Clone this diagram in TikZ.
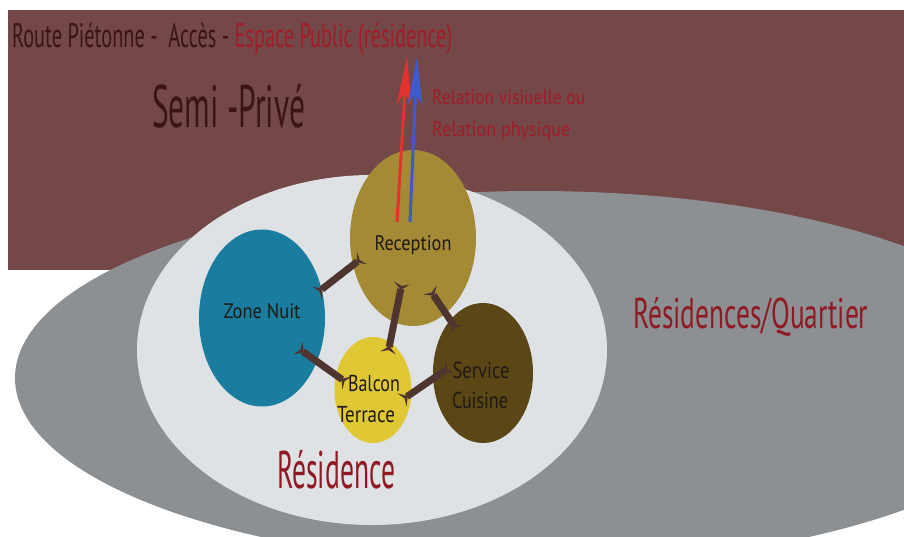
\documentclass[tikz,border=0pt]{standalone}
\usepackage{fontspec}
\setmainfont{PT Sans}
\usepackage{graphicx}
\usetikzlibrary{shapes.geometric,arrows.meta}
\definecolor{maroonbg}{HTML}{744748}
\definecolor{graybg}{HTML}{8C9093}
\definecolor{lightbg}{HTML}{DEE2E4}
\definecolor{recc}{HTML}{A48A35}
\definecolor{zonec}{HTML}{1A7C9E}
\definecolor{balc}{HTML}{E0C834}
\definecolor{servc}{HTML}{5B4616}
\definecolor{linkc}{HTML}{4F3530}
\definecolor{darktext}{HTML}{3B1515}
\definecolor{redtext}{HTML}{A01D27}
\definecolor{labeltext}{HTML}{1E1A12}
\definecolor{redarrow}{HTML}{E2322E}
\definecolor{bluearrow}{HTML}{3F5BCB}
\newcommand{\fw}[2]{\resizebox{#1}{\height}{#2}}
\begin{document}
\begin{tikzpicture}[x=1pt,y=-1pt,
  zone/.style={ellipse, inner sep=0pt, draw=none},
  txt/.style={inner sep=0pt, anchor=base west},
  lbl/.style={inner sep=0pt, anchor=base, text=labeltext, font=\fontsize{21}{21}\selectfont},
  link/.style={draw=linkc, line width=7pt,
    {Stealth[reversed,length=7pt,width=16pt,inset=3pt]}-{Stealth[reversed,length=7pt,width=16pt,inset=3pt]}},
  rel/.style={line width=3pt, -{Stealth[length=48pt,width=15pt,inset=12pt]}}]
\useasboundingbox (0,0) rectangle (904,537);
\clip (0,0) rectangle (904,537);
\fill[white] (0,0) rectangle (904,537);
\fill[maroonbg] (8,10) rectangle (904,270);
\fill[graybg] (535,378) ellipse [x radius=520pt, y radius=187pt];
\fill[lightbg] (372,350) ellipse [x radius=235pt, y radius=175pt];

\node[zone, fill=zonec, minimum width=126pt, minimum height=177pt] (zone) at (262,318) {};
\node[zone, fill=recc, minimum width=126pt, minimum height=176pt] (rec) at (413,238) {};
\node[zone, fill=balc, minimum width=77pt, minimum height=106pt] (bal) at (373,390) {};
\node[zone, fill=servc, minimum width=100pt, minimum height=140pt] (serv) at (483,373) {};

% connector end points
\coordinate (l1a) at (362,258); \coordinate (l1b) at (317,293);
\coordinate (l2a) at (402,283); \coordinate (l2b) at (388,353);
\coordinate (l3a) at (430,290); \coordinate (l3b) at (457,330);
\coordinate (l4a) at (298,348); \coordinate (l4b) at (347,383);
\coordinate (l5a) at (402,400); \coordinate (l5b) at (450,367);
\draw[link] (l1a) -- (l1b);
\draw[link] (l2a) -- (l2b);
\draw[link] (l3a) -- (l3b);
\draw[link] (l4a) -- (l4b);
\draw[link] (l5a) -- (l5b);

% relation arrows
\coordinate (ra) at (397,222); \coordinate (rb) at (407,57);
\coordinate (ba) at (410,222); \coordinate (bb) at (417,57);
\draw[rel, draw=redarrow, fill=redarrow] (ra) -- (rb);
\draw[rel, draw=bluearrow, fill=bluearrow] (ba) -- (bb);

% labels
\node[lbl] (recl) at (413,250) {\fw{77pt}{Reception}};
\node[lbl] (zonel) at (262,318) {\fw{77pt}{Zone Nuit}};
\node[lbl, font=\fontsize{23}{23}\selectfont] (ball1) at (374,391) {\fw{52pt}{Balcon}};
\node[lbl, font=\fontsize{23}{23}\selectfont] (ball2) at (366,422) {\fw{58pt}{Terrace}};
\node[lbl, font=\fontsize{23}{23}\selectfont] (servl1) at (481,378) {\fw{57pt}{Service}};
\node[lbl, font=\fontsize{23}{23}\selectfont] (servl2) at (480,408) {\fw{56pt}{Cuisine}};

% titles
\node[txt, text=darktext, font=\fontsize{34}{34}\selectfont] (title) at (12,48)
  {\fw{440pt}{Route Piétonne -\ \ Accès - \textcolor{redtext}{Espace Public (résidence)}}};
\node[txt, text=darktext, font=\fontsize{60}{60}\selectfont] (semi) at (152,128) {\fw{153pt}{Semi -Privé}};
\node[txt, text=redtext, font=\fontsize{21}{21}\selectfont] (rel1) at (432,105) {\fw{153pt}{Relation visiuelle ou}};
\node[txt, text=redtext, font=\fontsize{21}{21}\selectfont] (rel2) at (432,137) {\fw{138pt}{Relation physique}};
\node[txt, text=redtext!90!black, font=\fontsize{43}{43}\selectfont] (quart) at (633,328) {\fw{235pt}{Résidences/Quartier}};
\node[txt, text=redtext!90!black, font=\fontsize{53}{53}\selectfont] (resid) at (277,488) {\fw{118pt}{Résidence}};
\end{tikzpicture}
\end{document}
